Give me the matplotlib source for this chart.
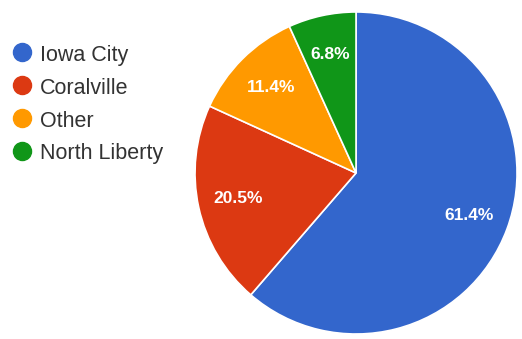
import matplotlib.pyplot as plt
from matplotlib.lines import Line2D

labels = ['Iowa City', 'Coralville', 'Other', 'North Liberty']
shares = [61.4, 20.5, 11.4, 6.8]
colors = ['#3366CC', '#DC3912', '#FF9900', '#109618']

W, H = 522, 339
fig = plt.figure(figsize=(W / 100, H / 100), dpi=100)
ax = fig.add_axes([0.3736, 0.0147, 0.6169, 0.95])

# keep the printed percentages as read, not renormalised
pct = iter(shares)
wedges, texts, autotexts = ax.pie(
    shares, colors=colors, startangle=90, counterclock=False,
    autopct=lambda p: '%.1f%%' % next(pct), pctdistance=0.75,
    wedgeprops=dict(edgecolor='white', linewidth=1.2),
    textprops=dict(color='white', fontsize=12.5, fontweight='bold',
                   family='Liberation Sans'))
ax.set_xlim(-1.0, 1.0)
ax.set_ylim(-1.0, 1.0)
ax.set_aspect('equal')

# legend, drawn by hand to match the spacing
y0, step = 51.5, 33
for i, (lab, c) in enumerate(zip(labels, colors)):
    y = 1 - (y0 + i * step) / H
    fig.add_artist(Line2D([22 / W], [y], transform=fig.transFigure, marker='o',
                          markersize=13, markerfacecolor=c, markeredgecolor=c, ls=''))
    fig.text(40 / W, y - 1 / H, lab, va='center_baseline', ha='left', fontsize=15.5,
             family='Liberation Sans', color='#333333')

fig.savefig('out.png', dpi=100)
